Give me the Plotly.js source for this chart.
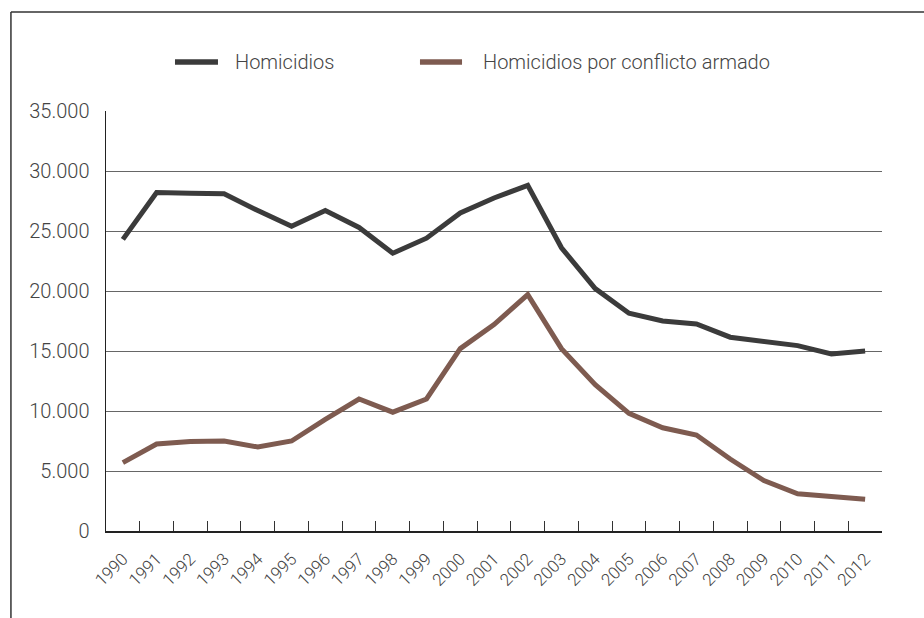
<!DOCTYPE html>
<html>
<head>
<meta charset="utf-8">
<script src="https://cdn.plot.ly/plotly-3.0.1.min.js"></script>
<style>html,body{margin:0;padding:0;background:#fff;}#chart{width:924px;height:618px;}</style>
</head>
<body>
<div id="chart"></div>
<script>
const years = ['1990','1991','1992','1993','1994','1995','1996','1997','1998','1999','2000','2001','2002','2003','2004','2005','2006','2007','2008','2009','2010','2011','2012'];
const homicidios = [24300,28200,28150,28100,26700,25400,26700,25300,23150,24400,26500,27750,28800,23600,20200,18150,17500,17250,16150,15800,15450,14750,15000];
const conflicto = [5700,7250,7450,7500,7000,7500,9300,11000,9900,11000,15200,17200,19700,15200,12200,9800,8600,8000,6000,4200,3100,2900,2650];
const seriesNames = ['Homicidios','Homicidios por conflicto armado'];
const seriesColors = ['#3b3b3b', '#7e5b50'];
const yTicks = [0,5000,10000,15000,20000,25000,30000,35000];

const font = "Roboto, 'Liberation Sans Narrow', sans-serif";

const traces = [
  {x: years, y: homicidios, name: seriesNames[0], type: 'scatter', mode: 'lines',
   line: {color: seriesColors[0], width: 5}},
  {x: years, y: conflicto, name: seriesNames[1], type: 'scatter', mode: 'lines',
   line: {color: seriesColors[1], width: 5}}
];

// legend drawn manually (long line samples as in the original)
const legX = [[0.0889, 0.1443, 0.1637], [0.4046, 0.4588, 0.4832]];
const legY = 1.1167;
const shapes = [
  {type: 'line', xref: 'paper', yref: 'paper', x0: -0.1225, x1: -0.1225, y0: 1.2357, y1: -0.21,
   line: {color: '#333', width: 1.5}},
  {type: 'line', xref: 'paper', yref: 'paper', x0: -0.1225, x1: 1.06, y0: 1.2357, y1: 1.2357,
   line: {color: '#333', width: 1.5}}
];
const annotations = [];
seriesNames.forEach((n, i) => {
  shapes.push({type: 'line', xref: 'paper', yref: 'paper', x0: legX[i][0], x1: legX[i][1], y0: legY, y1: legY,
               line: {color: seriesColors[i], width: 5.5}});
  annotations.push({xref: 'paper', yref: 'paper', x: legX[i][2], y: legY, xanchor: 'left', yanchor: 'middle',
                    showarrow: false, text: n, font: {family: font, size: 20, color: '#444', weight: 300}});
});

const layout = {
  width: 924, height: 618,
  margin: {l: 106, r: 42, t: 111, b: 87},
  paper_bgcolor: '#fff', plot_bgcolor: '#fff',
  separators: ',.',
  font: {family: font, color: '#444', weight: 300},
  showlegend: false,
  xaxis: {type: 'category', range: [-0.5, 22.5], tickson: 'boundaries', ticks: 'inside', ticklen: 10, tickcolor: '#333',
          showline: true, linecolor: '#222', linewidth: 1.5, showgrid: false, ticklabelstandoff: 10,
          tickangle: -45, tickfont: {size: 17, color: '#444', family: font, weight: 300}},
  yaxis: {range: [0, 35000], tickvals: yTicks, tickformat: ',d', showline: true, linecolor: '#222',
          linewidth: 1.5, showgrid: true, gridcolor: '#666', gridwidth: 1, zeroline: false,
          ticks: '', ticklabelstandoff: 11, tickfont: {size: 20, color: '#444', family: font, weight: 300}},
  shapes: shapes,
  annotations: annotations
};

Plotly.newPlot('chart', traces, layout, {displayModeBar: false, staticPlot: true});
</script>
</body>
</html>
